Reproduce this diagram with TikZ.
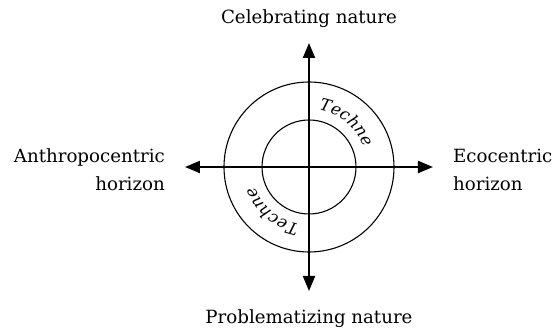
\documentclass[tikz,border=0pt]{standalone}
\usepackage{fontspec}
\setmainfont{DejaVu Serif}
\usetikzlibrary{arrows.meta,decorations.text}

\begin{document}
\begin{tikzpicture}[x=1pt,y=1pt,
    axis/.style={line width=2pt,-{Triangle[length=15pt,width=12pt]}},
    ring/.style={line width=1.1pt},
    label/.style={font=\fontsize{18.2}{28}\selectfont,inner sep=0pt},
    techne/.style={decorate,decoration={text along path,text align=center,
        text={|\fontsize{16.5}{18}\selectfont\itshape|Techne}}}]

    \useasboundingbox (-309,-164) rectangle (246,167);

    % draw circles
    \coordinate (c) at (0,0);
    \draw[ring] (c) circle (85);
    \draw[ring] (c) circle (47);

    % draw axes
    \coordinate (top) at (0,124);
    \coordinate (bottom) at (0,-124);
    \coordinate (left) at (-124,0);
    \coordinate (right) at (124,0);
    \draw[axis] (c) -- (top);
    \draw[axis] (c) -- (bottom);
    \draw[axis] (c) -- (left);
    \draw[axis] (c) -- (right);

    % draw labels
    \node[label] (celebrating) at (0,148) {Celebrating nature};
    \node[label] (problematizing) at (0,-152) {Problematizing nature};
    \node[label,anchor=east,align=right] (anthropo) at (-144,-3) {Anthropocentric\\horizon};
    \node[label,anchor=west,align=left] (eco) at (144,-3) {Ecocentric\\horizon};

    % draw techne
    \path[techne] (90:58) arc (90:10:58);
    \begin{scope}[rotate=180]
      \path[techne] (90:58) arc (90:10:58);
    \end{scope}
  \end{tikzpicture}
\end{document}
